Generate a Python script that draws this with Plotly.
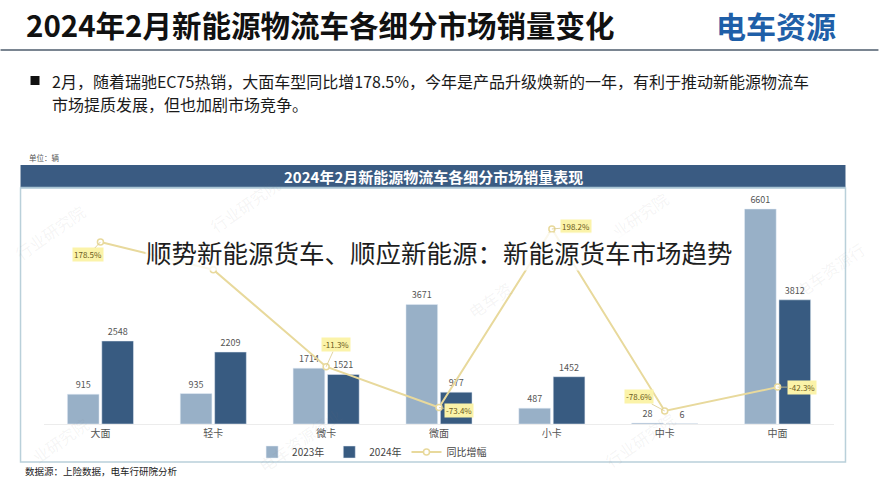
import plotly.graph_objects as go

categories = ["大面", "轻卡", "微卡", "微面", "小卡", "中卡", "中面"]
sales_2023 = [915, 935, 1714, 3671, 487, 28, 6601]
sales_2024 = [2548, 2209, 1521, 977, 1452, 6, 3812]
growth = [178.5, 136.3, -11.3, -73.4, 198.2, -78.6, -42.3]
show_growth_label = [True, False, True, True, True, True, True]
label_offsets = [(-12, 13), (0, 0), (10, -22), (20, 3), (24, -2), (-26, -14), (24, 0)]

FONT = "Noto Sans CJK SC"
C23 = "#98b0c7"
C24 = "#385b81"
CLINE = "#e8d99c"

W, H = 879, 490
L, R, T, B = 43.5, 834.5, 195, 424


def px(x):
    return (x - L) / (R - L)


def py(y):
    return (B - y) / (B - T)


def txt(x, y, text, size, color, xanchor="center", **kw):
    d = dict(x=px(x), y=py(y), xref="paper", yref="paper", text=text, showarrow=False,
             xanchor=xanchor, yanchor="middle",
             font=dict(size=size, color=color, family=FONT))
    d.update(kw)
    return d


fig = go.Figure()
fig.add_trace(go.Bar(
    name="2023年", x=categories, y=sales_2023, marker_color=C23,
    text=[str(v) for v in sales_2023], textposition="outside",
    textfont=dict(size=9, color="#555555", family=FONT), cliponaxis=False,
))
fig.add_trace(go.Bar(
    name="2024年", x=categories, y=sales_2024, marker_color=C24,
    text=[str(v) for v in sales_2024], textposition="outside",
    textfont=dict(size=9, color="#555555", family=FONT), cliponaxis=False,
))
fig.add_trace(go.Scatter(
    name="同比增幅", x=categories, y=growth, yaxis="y2", mode="lines+markers",
    line=dict(color=CLINE, width=2),
    marker=dict(symbol="circle", size=6, color="white", line=dict(color=CLINE, width=1.5)),
    cliponaxis=False,
))

annotations = []
for cat, g, show, (ax, ay) in zip(categories, growth, show_growth_label, label_offsets):
    if not show:
        continue
    annotations.append(dict(
        x=cat, y=g, xref="x", yref="y2", text=f"{g:.1f}%",
        showarrow=True, arrowhead=0, arrowwidth=0.8, arrowcolor="#d9c98a",
        ax=ax, ay=ay, standoff=0,
        font=dict(size=8, color="#6b5a1a", family=FONT),
        bgcolor="#fbf3a9", borderpad=1,
    ))

# watermarks
for (wx, wy, wt) in [(50, 232, "行业研究院"), (245, 205, "行业研究院"), (640, 215, "业研究院"),
                     (830, 270, "电车资源行"), (490, 300, "电车资"), (300, 440, "电车资源行业"),
                     (640, 440, "行业研究院"), (60, 440, "业研究院")]:
    annotations.append(txt(wx, wy, wt, 16, "rgba(120,120,120,0.08)", textangle=-35))

# overlay text
annotations.append(txt(439, 251, "顺势新能源货车、顺应新能源：新能源货车市场趋势", 25.5, "#1e1e1e",
                       bgcolor="rgba(255,255,255,0.8)", borderpad=0))

# titles and text
annotations += [
    txt(23, 24, "<b>2024年2月新能源物流车各细分市场销量变化</b>", 29.5, "#111111", xanchor="left"),
    txt(776, 25, "<b>电车资源</b>", 30, "#1f5fa8"),
    txt(50, 81, "2月，随着瑞驰EC75热销，大面车型同比增178.5%，今年是产品升级焕新的一年，有利于推动新能源物流车",
        16, "#1a1a1a", xanchor="left"),
    txt(50, 104, "市场提质发展，但也加剧市场竞争。", 16, "#1a1a1a", xanchor="left"),
    txt(26, 157, "单位：辆", 7.5, "#555555", xanchor="left"),
    txt(433, 176.5, "<b>2024年2月新能源物流车各细分市场销量表现</b>", 15, "white"),
    txt(22, 471, "数据源：上险数据，电车行研院分析", 9.5, "#222222", xanchor="left"),
]

shapes = [
    dict(type="line", xref="paper", yref="paper", x0=px(0), x1=px(879), y0=py(50), y1=py(50),
         line=dict(color="#4e5c6c", width=1.5)),
    dict(type="rect", xref="paper", yref="paper", x0=px(30), x1=px(39), y0=py(76), y1=py(85),
         fillcolor="#111111", line=dict(width=0)),
    dict(type="rect", xref="paper", yref="paper", x0=px(20), x1=px(846), y0=py(188), y1=py(462),
         line=dict(color="#b9d0da", width=1.5), fillcolor="rgba(0,0,0,0)", layer="below"),
    dict(type="rect", xref="paper", yref="paper", x0=px(20), x1=px(846), y0=py(165), y1=py(187),
         fillcolor="#3a5b82", line=dict(width=0), layer="below"),
    dict(type="line", xref="paper", yref="paper", x0=px(20), x1=px(846), y0=py(187.5), y1=py(187.5),
         line=dict(color="#a9c4d4", width=1.5)),
]

fig.update_layout(
    width=W, height=H,
    margin=dict(l=L, r=W - R, t=T, b=H - B, autoexpand=False),
    paper_bgcolor="white", plot_bgcolor="rgba(0,0,0,0)",
    barmode="group", bargap=0.39, bargroupgap=0.08,
    font=dict(family=FONT),
    xaxis=dict(showgrid=False, zeroline=False, showline=True, linecolor="#ececec",
               ticks="", tickfont=dict(size=10, color="#555555", family=FONT), fixedrange=True),
    yaxis=dict(range=[0, (B - T) / (215 / 6601)], visible=False, showgrid=False),
    yaxis2=dict(range=[-(B - 359.3) / 0.6575, (359.3 - T) / 0.6575], overlaying="y",
                side="right", visible=False, showgrid=False),
    legend=dict(orientation="h", x=px(372), xanchor="center", y=py(452), yanchor="middle",
                font=dict(size=10, color="#444444", family=FONT), itemwidth=30,
                bgcolor="rgba(0,0,0,0)", tracegroupgap=0),
    showlegend=True,
    annotations=annotations,
    shapes=shapes,
)

fig.write_html("out.html")
